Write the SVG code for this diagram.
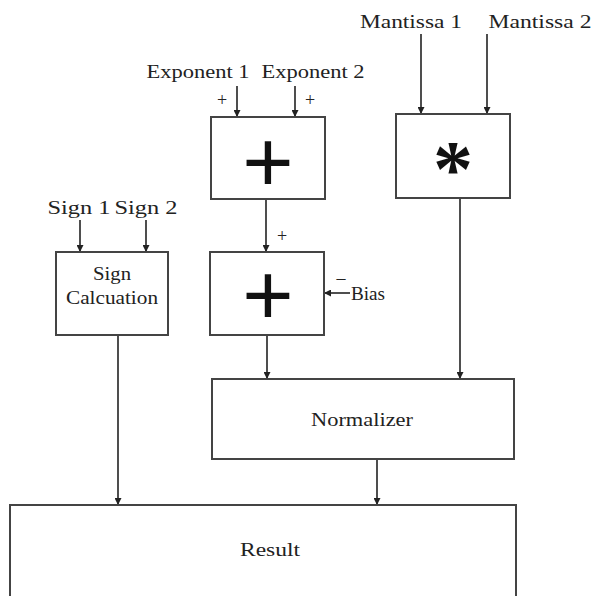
<svg xmlns="http://www.w3.org/2000/svg" width="595" height="596" viewBox="0 0 595 596">
<defs>
<marker id="arr" viewBox="0 0 10 10" refX="10" refY="5" markerWidth="7" markerHeight="7" markerUnits="userSpaceOnUse" orient="auto">
<path d="M0,0 L10,5 L0,10 z" fill="#222"/>
</marker>
<style>
.box{fill:#fff;stroke:#444;stroke-width:2}
.lbl{font-family:"Liberation Serif","Times New Roman",serif;font-size:19px;fill:#222}
.sm{font-family:"Liberation Serif","Times New Roman",serif;font-size:18px;fill:#222}
.con{fill:none;stroke:#222;stroke-width:1.6;marker-end:url(#arr)}
.big{font-family:"Liberation Sans",Arial,sans-serif;fill:#111}
.ast{font-family:"Liberation Serif","Times New Roman",serif;fill:#111}
</style>
</defs>
<rect width="595" height="596" fill="#fff"/>
<g id="connectors">
<path class="con" d="M237,86 V117"/>
<path class="con" d="M295,86 V117"/>
<path class="con" d="M421,34 V114"/>
<path class="con" d="M487,34 V114"/>
<path class="con" d="M266,199 V252"/>
<path class="con" d="M350,293 H324"/>
<path class="con" d="M80,220 V252"/>
<path class="con" d="M146,220 V252"/>
<path class="con" d="M267,335 V379"/>
<path class="con" d="M460,198 V379"/>
<path class="con" d="M118,335 V505"/>
<path class="con" d="M377,459 V505"/>
</g>
<g id="labels">
<text class="lbl" x="198" y="78" text-anchor="middle" textLength="103" lengthAdjust="spacingAndGlyphs">Exponent 1</text>
<text class="lbl" x="313" y="78" text-anchor="middle" textLength="103" lengthAdjust="spacingAndGlyphs">Exponent 2</text>
<text class="lbl" x="411" y="28" text-anchor="middle" textLength="102" lengthAdjust="spacingAndGlyphs">Mantissa 1</text>
<text class="lbl" x="540" y="28" text-anchor="middle" textLength="103" lengthAdjust="spacingAndGlyphs">Mantissa 2</text>
<text class="lbl" x="79" y="214" text-anchor="middle" textLength="63" lengthAdjust="spacingAndGlyphs">Sign 1</text>
<text class="lbl" x="146" y="214" text-anchor="middle" textLength="63" lengthAdjust="spacingAndGlyphs">Sign 2</text>
<text class="sm" x="222" y="106" text-anchor="middle">+</text>
<text class="sm" x="310" y="106" text-anchor="middle">+</text>
<text class="sm" x="282" y="242" text-anchor="middle">+</text>
<text class="sm" x="341" y="284" text-anchor="middle">–</text>
<text class="lbl" x="351" y="300" textLength="34" lengthAdjust="spacingAndGlyphs">Bias</text>
</g>
<g id="adder1">
<rect class="box" x="211" y="117" width="114" height="82"/>
<text class="big" x="268" y="192" font-size="88" text-anchor="middle">+</text>
</g>
<g id="multiplier">
<rect class="box" x="396" y="114" width="114" height="84"/>
<text class="ast" x="453" y="196" font-size="80" font-weight="bold" text-anchor="middle">*</text>
</g>
<g id="adder2">
<rect class="box" x="210" y="252" width="114" height="83"/>
<text class="big" x="268" y="325" font-size="88" text-anchor="middle">+</text>
</g>
<g id="sign">
<rect class="box" x="56" y="252" width="112" height="83"/>
<text class="lbl" x="112" y="280" text-anchor="middle" textLength="38" lengthAdjust="spacingAndGlyphs">Sign</text>
<text class="lbl" x="112" y="304" text-anchor="middle" textLength="92" lengthAdjust="spacingAndGlyphs">Calcuation</text>
</g>
<g id="normalizer">
<rect class="box" x="212" y="379" width="302" height="80"/>
<text class="lbl" x="362" y="426" text-anchor="middle" textLength="102" lengthAdjust="spacingAndGlyphs">Normalizer</text>
</g>
<g id="result">
<rect class="box" x="10" y="505" width="506" height="100"/>
<text class="lbl" x="270" y="556" text-anchor="middle" textLength="60" lengthAdjust="spacingAndGlyphs">Result</text>
</g>
</svg>
